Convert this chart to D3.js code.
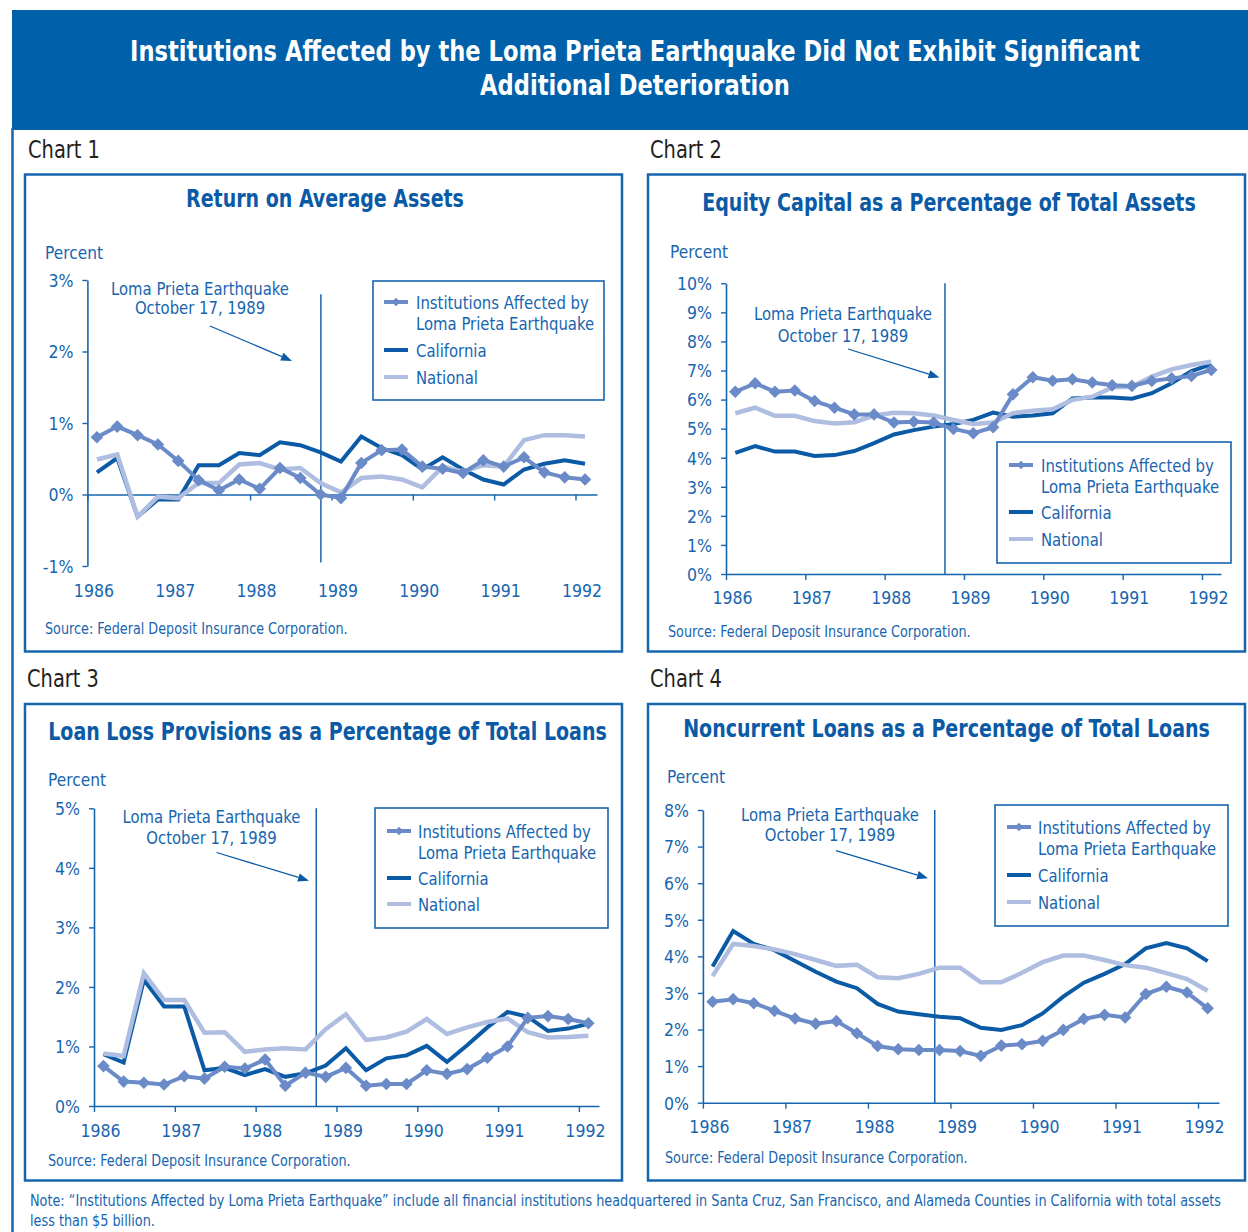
<!DOCTYPE html>
<html><head><meta charset="utf-8">
<script src="https://cdn.jsdelivr.net/npm/d3@7"></script>
<style>
body{margin:0;background:#fff;}
svg{display:block;}
</style></head><body>
<svg id="c" width="1248" height="1232"></svg>
<script>
// ---------------- DATA ----------------
const quarters = ["1986 Q1","1986 Q2","1986 Q3","1986 Q4","1987 Q1","1987 Q2","1987 Q3","1987 Q4",
  "1988 Q1","1988 Q2","1988 Q3","1988 Q4","1989 Q1","1989 Q2","1989 Q3","1989 Q4",
  "1990 Q1","1990 Q2","1990 Q3","1990 Q4","1991 Q1","1991 Q2","1991 Q3","1991 Q4","1992 Q1"];
const yearTicks = [1986,1987,1988,1989,1990,1991,1992];
const seriesNames = ["Institutions Affected by", "Loma Prieta Earthquake", "California", "National"];

// Chart 1: Return on Average Assets (%)
const roaInst = [0.80,0.95,0.83,0.70,0.47,0.20,0.06,0.21,0.08,0.37,0.23,0.00,-0.05,0.44,0.62,0.63,0.39,0.36,0.30,0.48,0.39,0.52,0.31,0.24,0.21];
const roaCal  = [0.31,0.51,-0.31,-0.07,-0.07,0.41,0.41,0.58,0.55,0.73,0.69,0.59,0.46,0.81,0.65,0.55,0.35,0.52,0.35,0.21,0.14,0.35,0.43,0.48,0.43];
const roaNat  = [0.49,0.56,-0.31,-0.03,-0.05,0.16,0.16,0.42,0.44,0.35,0.37,0.16,0.03,0.23,0.25,0.21,0.10,0.39,0.32,0.41,0.39,0.76,0.83,0.83,0.81];
const roaTicks = [-1,0,1,2,3];

// Chart 2: Equity Capital as a Percentage of Total Assets
const eqInst = [6.27,6.56,6.27,6.31,5.95,5.72,5.49,5.49,5.21,5.24,5.21,4.99,4.84,5.05,6.18,6.77,6.65,6.70,6.59,6.49,6.47,6.64,6.73,6.81,7.02];
const eqCal  = [4.17,4.40,4.21,4.21,4.06,4.09,4.23,4.50,4.80,4.95,5.07,5.16,5.30,5.55,5.41,5.45,5.53,6.04,6.07,6.07,6.03,6.22,6.56,6.98,7.21];
const eqNat  = [5.53,5.72,5.44,5.44,5.26,5.18,5.22,5.45,5.55,5.53,5.45,5.30,5.16,5.21,5.53,5.62,5.67,5.99,6.10,6.42,6.44,6.79,7.04,7.19,7.30];
const eqTicks = [0,1,2,3,4,5,6,7,8,9,10];

// Chart 3: Loan Loss Provisions as a Percentage of Total Loans
const llpInst = [0.67,0.41,0.39,0.36,0.50,0.46,0.66,0.63,0.78,0.34,0.56,0.49,0.64,0.34,0.37,0.37,0.60,0.54,0.62,0.81,1.00,1.48,1.51,1.46,1.39];
const llpCal  = [0.87,0.73,2.12,1.67,1.67,0.60,0.64,0.52,0.62,0.49,0.55,0.68,0.97,0.60,0.80,0.85,1.01,0.74,1.02,1.32,1.58,1.50,1.26,1.30,1.38];
const llpNat  = [0.88,0.84,2.23,1.78,1.78,1.23,1.24,0.91,0.95,0.97,0.95,1.29,1.54,1.11,1.15,1.25,1.46,1.21,1.32,1.41,1.47,1.24,1.15,1.16,1.18];
const llpTicks = [0,1,2,3,4,5];

// Chart 4: Noncurrent Loans as a Percentage of Total Loans
const ncInst = [2.76,2.83,2.72,2.51,2.30,2.16,2.23,1.90,1.55,1.46,1.44,1.44,1.41,1.28,1.56,1.60,1.69,1.99,2.29,2.40,2.33,2.97,3.17,3.01,2.58];
const ncCal  = [3.72,4.69,4.34,4.17,3.87,3.58,3.31,3.13,2.70,2.49,2.42,2.35,2.31,2.05,1.99,2.12,2.44,2.90,3.28,3.52,3.79,4.22,4.36,4.22,3.87];
const ncNat  = [3.46,4.34,4.28,4.19,4.06,3.90,3.74,3.77,3.43,3.40,3.52,3.69,3.69,3.29,3.29,3.55,3.84,4.02,4.02,3.90,3.76,3.69,3.54,3.38,3.06];
const ncTicks = [0,1,2,3,4,5,6,7,8];

// Earthquake marker position on each chart's year axis
const eventPos = [1988.87, 1988.76, 1988.75, 1988.81];

const headerTitle = ["Institutions Affected by the Loma Prieta Earthquake Did Not Exhibit Significant", "Additional Deterioration"];
const chartTitles = ["Return on Average Assets", "Equity Capital as a Percentage of Total Assets",
  "Loan Loss Provisions as a Percentage of Total Loans", "Noncurrent Loans as a Percentage of Total Loans"];
const annotation = ["Loma Prieta Earthquake", "October 17, 1989"];
const sourceText = "Source: Federal Deposit Insurance Corporation.";
const noteText = ["Note: \u201cInstitutions Affected by Loma Prieta Earthquake\u201d include all financial institutions headquartered in Santa Cruz, San Francisco, and Alameda Counties in California with total assets",
  "less than $5 billion."];

// ---------------- STYLE / LAYOUT ----------------
const FONT = "'Liberation Sans Narrow','Arial Narrow','DejaVu Sans Condensed',sans-serif";
const COL = {header:"#0061aa", blue:"#1765af", title:"#0b5aa6", inst:"#6a8bc8", cal:"#0b5aa6", nat:"#aebde0", dark:"#231f20"};
const QOFF = 0.117;

const layouts = [
  {box:[25,174.5,597,477], label:[28,158], title:[325,207,278], pct:[45,259], x0:87.4, x1992:575.5, xEnd:597, y:[280,566], xAxisAt:0, xLabY:597,
   span:[-0.95,2.8], ann:{x:200,y1:294.5,y2:314,a:[210,326,292,361]}, leg:{x:373,y:281,w:231,h:119,sx:384,tx:416,rows:[302,350,377]}, src:[45,634]},
  {box:[648,174.5,597,477], label:[650,158], title:[949,211,494], pct:[670,258], x0:726, x1992:1202, xEnd:1221, y:[283.3,574], xAxisAt:null, xLabY:604,
   span:null, ann:{x:843,y1:320,y2:341.5,a:[848,349,939.5,377.5]}, leg:{x:997,y:442,w:234,h:121,sx:1009,tx:1041,rows:[465,512,539]}, src:[668,637]},
  {box:[25,704,597,476.5], label:[27,687], title:[327.5,740,559], pct:[48,786], x0:94, x1992:578.9, xEnd:599, y:[808.3,1106], xAxisAt:null, xLabY:1137,
   span:null, ann:{x:211.5,y1:822.5,y2:844,a:[216.5,852.5,309,880.7]}, leg:{x:375,y:808,w:233,h:120,sx:387,tx:418,rows:[831,878,904]}, src:[48,1166]},
  {box:[648,704,597,476.5], label:[650,687], title:[946.5,737,527], pct:[667,783], x0:702.9, x1992:1198, xEnd:1219, y:[810,1102.7], xAxisAt:null, xLabY:1133,
   span:null, ann:{x:830,y1:820.5,y2:840.7,a:[836,850.7,928,878.3]}, leg:{x:995,y:805,w:233,h:121,sx:1007,tx:1038,rows:[827,875,902]}, src:[665,1163]}
];
const charts = [
  {inst:roaInst, cal:roaCal, nat:roaNat, ticks:roaTicks},
  {inst:eqInst, cal:eqCal, nat:eqNat, ticks:eqTicks},
  {inst:llpInst, cal:llpCal, nat:llpNat, ticks:llpTicks},
  {inst:ncInst, cal:ncCal, nat:ncNat, ticks:ncTicks}
];

// ---------------- DRAW ----------------
const svg = d3.select("#c").attr("font-family", FONT);
svg.append("rect").attr("width",1248).attr("height",1232).attr("fill","#fff");

// text placed through a transform so it can be condensed horizontally
function txt(parent, x, y, str, o){
  const t = parent.append("text").attr("x",0).attr("y",0).attr("font-size",o.size).attr("fill",o.fill)
    .attr("text-anchor",o.anchor || "start").text(str);
  if (o.bold) t.attr("font-weight","bold");
  t.node().__pos = [x,y];
  t.attr("transform",`translate(${x},${y})`);
  return t;
}
function applyFit(t, f){
  const [x,y] = t.node().__pos;
  if (f.scale && f.scale < 1) t.attr("transform",`translate(${x},${y}) scale(${f.scale.toFixed(4)},1)`);
  else t.attr("letter-spacing", (f.ls||0).toFixed(3));
}
function fit(t, w){
  const n = t.node(); const L = n.getComputedTextLength(); const k = n.textContent.length;
  const ls = (w - L) / k;
  const f = ls >= 0 ? {ls} : {ls:0, scale:w/L};
  applyFit(t, f); return f;
}

// header
svg.append("rect").attr("x",12).attr("y",10).attr("width",1236).attr("height",120).attr("fill",COL.header);
svg.append("line").attr("x1",12.5).attr("x2",12.5).attr("y1",128).attr("y2",1232).attr("stroke",COL.blue).attr("stroke-width",2.5);
fit(txt(svg, 635, 61, headerTitle[0], {size:29, fill:"#fff", anchor:"middle", bold:true}), 1010);
fit(txt(svg, 635, 95, headerTitle[1], {size:29, fill:"#fff", anchor:"middle", bold:true}), 310);

const diamond = d3.symbol().type(d3.symbolDiamond2);

charts.forEach((c, ci) => {
  const L = layouts[ci];
  const g = svg.append("g");
  fit(txt(g, L.label[0], L.label[1], "Chart " + (ci+1), {size:25, fill:COL.dark}), 72);
  g.append("rect").attr("x",L.box[0]).attr("y",L.box[1]).attr("width",L.box[2]).attr("height",L.box[3])
    .attr("fill","none").attr("stroke",COL.blue).attr("stroke-width",2.5);
  fit(txt(g, L.title[0], L.title[1], chartTitles[ci], {size:25, fill:COL.title, anchor:"middle", bold:true}), L.title[2]);
  fit(txt(g, L.pct[0], L.pct[1], "Percent", {size:18, fill:COL.blue}), 58);

  // scales
  const ticks = c.ticks;
  const yMin = d3.min(ticks), yMax = d3.max(ticks);
  const y = d3.scaleLinear().domain([yMin, yMax]).range([L.y[1], L.y[0]]);
  const xs = d3.scaleLinear().domain([1986,1992]).range([L.x0, L.x1992]);
  const xAxisScale = xs.copy().domain([1986, xs.invert(L.xEnd)]).range([L.x0, L.xEnd]);
  const qx = i => xs(1986 + QOFF + i/4);

  // y axis
  const ya = g.append("g").attr("transform",`translate(${L.x0},0)`)
    .call(d3.axisLeft(y).tickValues(ticks).tickSize(5).tickPadding(9).tickSizeOuter(0).tickFormat(d => d + "%"));
  ya.select(".domain").attr("stroke",COL.blue).attr("stroke-width",1.6);
  ya.selectAll(".tick line").attr("stroke",COL.blue).attr("stroke-width",1.4);
  ya.selectAll(".tick text").attr("fill",COL.blue).attr("font-size",17.5).attr("font-family",FONT).attr("dy","0.36em");

  // x axis line + ticks
  const xAt = L.xAxisAt === null ? yMin : L.xAxisAt;
  const xa = g.append("g").attr("transform",`translate(0,${y(xAt)})`)
    .call(d3.axisBottom(xAxisScale).tickValues(yearTicks).tickSize(6).tickSizeOuter(0).tickFormat(""));
  xa.select(".domain").attr("stroke",COL.blue).attr("stroke-width",1.6);
  xa.selectAll(".tick line").attr("stroke",COL.blue).attr("stroke-width",1.4);
  const xl = g.append("g").attr("transform",`translate(6,${L.xLabY})`)
    .call(d3.axisBottom(xAxisScale).tickValues(yearTicks).tickSize(0).tickPadding(0).tickFormat(d3.format("d")));
  xl.select(".domain").remove();
  xl.selectAll(".tick text").attr("y",0).attr("dy",0).attr("fill",COL.blue).attr("font-size",17.5).attr("font-family",FONT);

  // event line
  const span = L.span || [yMin, yMax];
  g.append("line").attr("x1",xs(eventPos[ci])).attr("x2",xs(eventPos[ci]))
    .attr("y1",y(span[1])).attr("y2",y(span[0])).attr("stroke",COL.cal).attr("stroke-width",1.4);

  // annotation
  const afs = ci === 0 ? 17 : 18;
  const f1 = fit(txt(g, L.ann.x, L.ann.y1, annotation[0], {size:afs, fill:COL.blue, anchor:"middle"}), 178);
  applyFit(txt(g, L.ann.x, L.ann.y2, annotation[1], {size:afs, fill:COL.blue, anchor:"middle"}), f1);
  const [ax1,ay1,ax2,ay2] = L.ann.a;
  const ang = Math.atan2(ay2-ay1, ax2-ax1);
  const hl = 11, hw = 4.2;
  const bx = ax2 - hl*Math.cos(ang), by = ay2 - hl*Math.sin(ang);
  g.append("line").attr("x1",ax1).attr("y1",ay1).attr("x2",bx).attr("y2",by).attr("stroke",COL.cal).attr("stroke-width",1.3);
  g.append("path").attr("d",`M${ax2},${ay2}L${bx - hw*Math.sin(ang)},${by + hw*Math.cos(ang)}L${bx + hw*Math.sin(ang)},${by - hw*Math.cos(ang)}Z`).attr("fill",COL.cal);

  // series lines
  const line = d3.line().x((d,i) => qx(i)).y(d => y(d));
  g.append("path").datum(c.cal).attr("d",line).attr("fill","none").attr("stroke",COL.cal).attr("stroke-width",4);
  g.append("path").datum(c.nat).attr("d",line).attr("fill","none").attr("stroke",COL.nat).attr("stroke-width",4.5);
  g.append("path").datum(c.inst).attr("d",line).attr("fill","none").attr("stroke",COL.inst).attr("stroke-width",4);
  g.selectAll(".mk").data(c.inst).join("path").attr("class","mk")
    .attr("transform",(d,i) => `translate(${qx(i)},${y(d)})`)
    .attr("d", diamond.size(70)()).attr("fill",COL.inst).attr("stroke",COL.inst).attr("stroke-width",1.5);

  // legend
  const lg = L.leg;
  g.append("rect").attr("x",lg.x).attr("y",lg.y).attr("width",lg.w).attr("height",lg.h).attr("fill","#fff")
    .attr("stroke",COL.blue).attr("stroke-width",1.6);
  const cols = [COL.inst, COL.cal, COL.nat];
  lg.rows.forEach((ry, k) => {
    g.append("line").attr("x1",lg.sx).attr("x2",lg.sx+24).attr("y1",ry).attr("y2",ry).attr("stroke",cols[k]).attr("stroke-width",4);
    if (k === 0) g.append("path").attr("transform",`translate(${lg.sx+12},${ry})`).attr("d",diamond.size(45)()).attr("fill",COL.inst);
  });
  const lf = fit(txt(g, lg.tx, lg.rows[0]+7, seriesNames[0], {size:18.5, fill:COL.blue}), 173);
  [[seriesNames[1], lg.rows[0]+28],[seriesNames[2], lg.rows[1]+7],[seriesNames[3], lg.rows[2]+7]].forEach(([t,yy]) => {
    applyFit(txt(g, lg.tx, yy, t, {size:18.5, fill:COL.blue}), lf);
  });

  // source
  fit(txt(g, L.src[0], L.src[1], sourceText, {size:15.5, fill:COL.blue}), 303);
});

// note
const nf = fit(txt(svg, 30, 1206, noteText[0], {size:15, fill:COL.blue}), 1192);
applyFit(txt(svg, 30, 1226, noteText[1], {size:15, fill:COL.blue}), nf);
</script>
</body></html>
